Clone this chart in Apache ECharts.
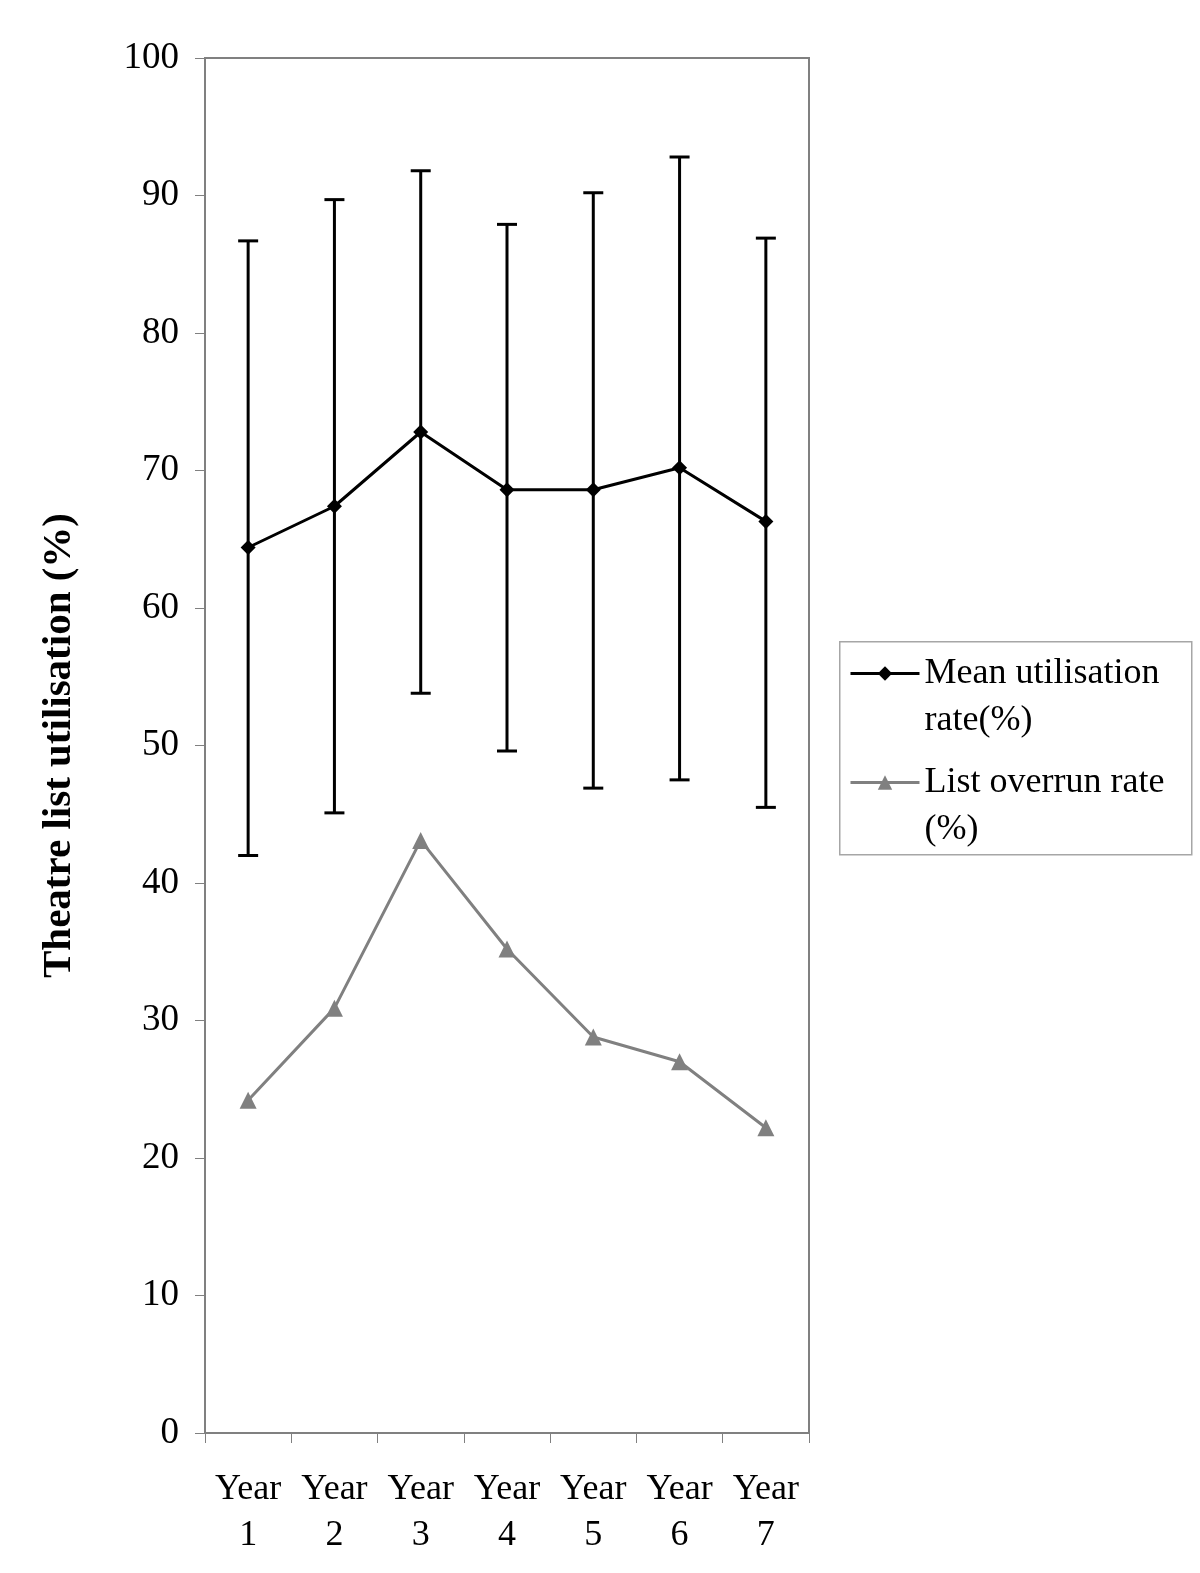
<!DOCTYPE html>
<html>
<head>
<meta charset="utf-8">
<script src="https://cdn.jsdelivr.net/npm/echarts@6/dist/echarts.min.js"></script>
<style>
html,body{margin:0;padding:0;background:#fff;}
#chart{width:1200px;height:1573px;}
</style>
</head>
<body>
<div id="chart"></div>
<script>
const categories = ['Year\n1','Year\n2','Year\n3','Year\n4','Year\n5','Year\n6','Year\n7'];
const meanUtilisation = [64.4, 67.4, 72.8, 68.6, 68.6, 70.2, 66.3];
const errLow = [42.0, 45.1, 53.8, 49.6, 46.9, 47.5, 45.5];
const errHigh = [86.7, 89.7, 91.8, 87.9, 90.2, 92.8, 86.9];
const overrunRate = [24.2, 30.9, 43.1, 35.2, 28.8, 27.0, 22.2];
const yTicks = [0, 10, 20, 30, 40, 50, 60, 70, 80, 90, 100];

const FONT = 'Liberation Serif';
const chart = echarts.init(document.getElementById('chart'), null, {renderer: 'canvas'});

const legendNames = {
  'Mean utilisation rate(%)': ' \nMean utilisation\nrate(%)',
  'List overrun rate (%)': ' \nList overrun rate\n(%)'
};

chart.setOption({
  backgroundColor: '#ffffff',
  animation: false,
  grid: {
    left: 205, right: 391, top: 58, bottom: 140,
    show: true, borderColor: '#808080', borderWidth: 2, backgroundColor: 'transparent'
  },
  graphic: [{
    type: 'rect', left: 839, top: 641, z: -1,
    shape: {width: 352, height: 213},
    style: {fill: '#ffffff', stroke: '#a6a6a6', lineWidth: 1.5}
  }],
  legend: {
    orient: 'vertical',
    left: 849, top: 603,
    padding: 0,
    itemGap: -32,
    itemWidth: 69, itemHeight: 18,
    data: ['Mean utilisation rate(%)', 'List overrun rate (%)'],
    formatter: n => legendNames[n],
    lineStyle: {width: 3},
    textStyle: {
      fontFamily: FONT, fontSize: 36, color: '#000', lineHeight: 47
    },
    selectedMode: false
  },
  xAxis: {
    type: 'category',
    data: categories,
    boundaryGap: true,
    axisLine: {show: true, lineStyle: {color: '#808080', width: 2}},
    axisTick: {show: true, length: 10, lineStyle: {color: '#808080', width: 1}},
    axisLabel: {fontFamily: FONT, fontSize: 36, color: '#000', lineHeight: 46, margin: 34},
    splitLine: {show: false}
  },
  yAxis: {
    type: 'value',
    min: 0, max: 100, interval: 10,
    name: 'Theatre list utilisation (%)',
    nameLocation: 'middle',
    nameGap: 125,
    nameTextStyle: {fontFamily: FONT, fontSize: 41, fontWeight: 'bold', color: '#000'},
    axisLine: {show: true, lineStyle: {color: '#808080', width: 2}},
    axisTick: {show: true, length: 10, lineStyle: {color: '#808080', width: 1}},
    axisLabel: {
      fontFamily: FONT, fontSize: 37, color: '#000', margin: 26,
      formatter: v => (yTicks.indexOf(v) >= 0 ? String(v) : '')
    },
    splitLine: {show: false}
  },
  series: [
    {
      name: 'Error bars',
      type: 'custom',
      z: 2,
      data: categories.map((c, i) => [i, errLow[i], errHigh[i]]),
      renderItem: function (params, api) {
        const x = api.value(0);
        const top = api.coord([x, api.value(2)]);
        const bot = api.coord([x, api.value(1)]);
        const hw = 10;
        const st = {stroke: '#000', lineWidth: 3, fill: null};
        return {
          type: 'group',
          children: [
            {type: 'line', shape: {x1: top[0], y1: top[1], x2: bot[0], y2: bot[1]}, style: st},
            {type: 'line', shape: {x1: top[0] - hw, y1: top[1], x2: top[0] + hw, y2: top[1]}, style: st},
            {type: 'line', shape: {x1: bot[0] - hw, y1: bot[1], x2: bot[0] + hw, y2: bot[1]}, style: st}
          ]
        };
      }
    },
    {
      name: 'Mean utilisation rate(%)',
      type: 'line',
      z: 3,
      data: meanUtilisation,
      symbol: 'diamond',
      symbolSize: 15,
      lineStyle: {color: '#000', width: 3},
      itemStyle: {color: '#000'}
    },
    {
      name: 'List overrun rate (%)',
      type: 'line',
      z: 3,
      data: overrunRate,
      symbol: 'triangle',
      symbolSize: 17,
      lineStyle: {color: '#808080', width: 3},
      itemStyle: {color: '#808080'}
    }
  ]
});
</script>
</body>
</html>
